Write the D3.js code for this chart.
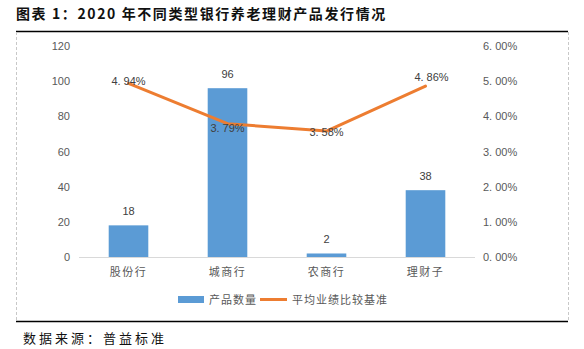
<!DOCTYPE html>
<html>
<head>
<meta charset="utf-8">
<script src="https://cdn.jsdelivr.net/npm/d3@7/dist/d3.min.js"></script>
<style>
  html, body { margin: 0; padding: 0; background: #fff; }
  svg text { font-family: "Liberation Sans", Arial, "Noto Sans CJK SC", sans-serif; }
  .cjk { font-family: "Noto Sans CJK SC", sans-serif; }
</style>
</head>
<body>
<svg id="chart" width="584" height="349"></svg>
<script>
// Bank wealth-management pension product issuance, 2020
const categories = ["股份行", "城商行", "农商行", "理财子"];
const productCounts = [18, 96, 2, 38];
const avgBenchmark = [4.94, 3.79, 3.58, 4.86]; // percent
const leftTicks = [0, 20, 40, 60, 80, 100, 120];
const rightTicks = [0, 1, 2, 3, 4, 5, 6];
const seriesNames = ["产品数量", "平均业绩比较基准"];

const svg = d3.select("#chart");
const barColor = "#5B9BD5";
const lineColor = "#ED7D31";
const textColor = "#595959";

// Title
svg.append("text").attr("class", "cjk")
  .attr("x", 16).attr("y", 19)
  .attr("font-size", 14).attr("font-weight", "bold").attr("fill", "#111")
  .attr("letter-spacing", 1.6)
  .text("图表 1：2020 年不同类型银行养老理财产品发行情况");

// Frame: solid top/bottom rules, dashed sides
svg.append("line").attr("x1", 16).attr("x2", 568).attr("y1", 31.5).attr("y2", 31.5)
  .attr("stroke", "#000").attr("stroke-width", 1.5);
svg.append("line").attr("x1", 16).attr("x2", 568).attr("y1", 321.5).attr("y2", 321.5)
  .attr("stroke", "#000").attr("stroke-width", 1.5);
[16, 568].forEach(x => {
  svg.append("line").attr("x1", x + 0.5).attr("x2", x + 0.5).attr("y1", 32).attr("y2", 321)
    .attr("stroke", "#c8c8c8").attr("stroke-dasharray", "3,2");
});

// Scales
const x = d3.scaleBand().domain(categories).range([79, 475]).paddingInner(0.6).paddingOuter(0.3);
const yL = d3.scaleLinear().domain([0, 120]).range([257, 46]);
const yR = d3.scaleLinear().domain([0, 6]).range([257, 46]);
const cx = c => x(c) + x.bandwidth() / 2;
const pct = v => d3.format(".2f")(v).replace(".", ". ") + "%";

// Left axis
const leftAxis = d3.axisLeft(yL).tickValues(leftTicks).tickSize(0).tickPadding(0);
const gL = svg.append("g").attr("transform", "translate(70,0)").call(leftAxis);
gL.select(".domain").remove();
gL.selectAll("text").attr("fill", textColor).attr("font-size", 11);

// Right axis
const rightAxis = d3.axisRight(yR).tickValues(rightTicks).tickSize(0).tickPadding(0).tickFormat(pct);
const gR = svg.append("g").attr("transform", "translate(483,0)").call(rightAxis);
gR.select(".domain").remove();
gR.selectAll("text").attr("fill", textColor).attr("font-size", 11);

// Baseline
svg.append("line").attr("x1", 79).attr("x2", 475).attr("y1", 257.5).attr("y2", 257.5)
  .attr("stroke", "#d9d9d9").attr("stroke-width", 1);

// Category labels
svg.append("g").selectAll("text").data(categories).join("text")
  .attr("class", "cjk")
  .attr("x", d => cx(d)).attr("y", 276)
  .attr("text-anchor", "middle").attr("font-size", 11).attr("fill", textColor)
  .attr("letter-spacing", 1.5)
  .text(d => d);

// Bars
const barData = categories.map((c, i) => ({ c, v: productCounts[i] }));
svg.append("g").selectAll("rect").data(barData).join("rect")
  .attr("x", d => x(d.c)).attr("width", x.bandwidth())
  .attr("y", d => yL(d.v)).attr("height", d => yL(0) - yL(d.v))
  .attr("fill", barColor);
svg.append("g").selectAll("text").data(barData).join("text")
  .attr("x", d => cx(d.c)).attr("y", d => yL(d.v) - 10)
  .attr("text-anchor", "middle").attr("font-size", 11).attr("fill", "#404040")
  .text(d => d.v);

// Benchmark line
const lineData = categories.map((c, i) => ({ c, v: avgBenchmark[i] }));
const line = d3.line().x(d => cx(d.c)).y(d => yR(d.v));
svg.append("path").datum(lineData).attr("d", line)
  .attr("fill", "none").attr("stroke", lineColor).attr("stroke-width", 3)
  .attr("stroke-linejoin", "round").attr("stroke-linecap", "round");

// Label placement around each line point (dx, dy in px)
const labelShift = [[0, 2], [0, 8], [0, 5], [6, -5]];
svg.append("g").selectAll("text").data(lineData).join("text")
  .attr("x", (d, i) => cx(d.c) + labelShift[i][0])
  .attr("y", (d, i) => yR(d.v) + labelShift[i][1])
  .attr("text-anchor", "middle").attr("font-size", 11).attr("fill", "#404040")
  .text(d => pct(d.v));

// Legend
const lg = svg.append("g");
lg.append("rect").attr("x", 178).attr("y", 296).attr("width", 26).attr("height", 7).attr("fill", barColor);
lg.append("text").attr("class", "cjk").attr("x", 209).attr("y", 304)
  .attr("font-size", 11).attr("fill", textColor).attr("letter-spacing", 1).text(seriesNames[0]);
lg.append("line").attr("x1", 260).attr("x2", 287).attr("y1", 299.5).attr("y2", 299.5)
  .attr("stroke", lineColor).attr("stroke-width", 3);
lg.append("text").attr("class", "cjk").attr("x", 292).attr("y", 304)
  .attr("font-size", 11).attr("fill", textColor).attr("letter-spacing", 1).text(seriesNames[1]);

// Source note
svg.append("text").attr("class", "cjk")
  .attr("x", 23).attr("y", 343)
  .attr("font-size", 13).attr("fill", "#111").attr("letter-spacing", 3)
  .text("数据来源：普益标准");
</script>
</body>
</html>
